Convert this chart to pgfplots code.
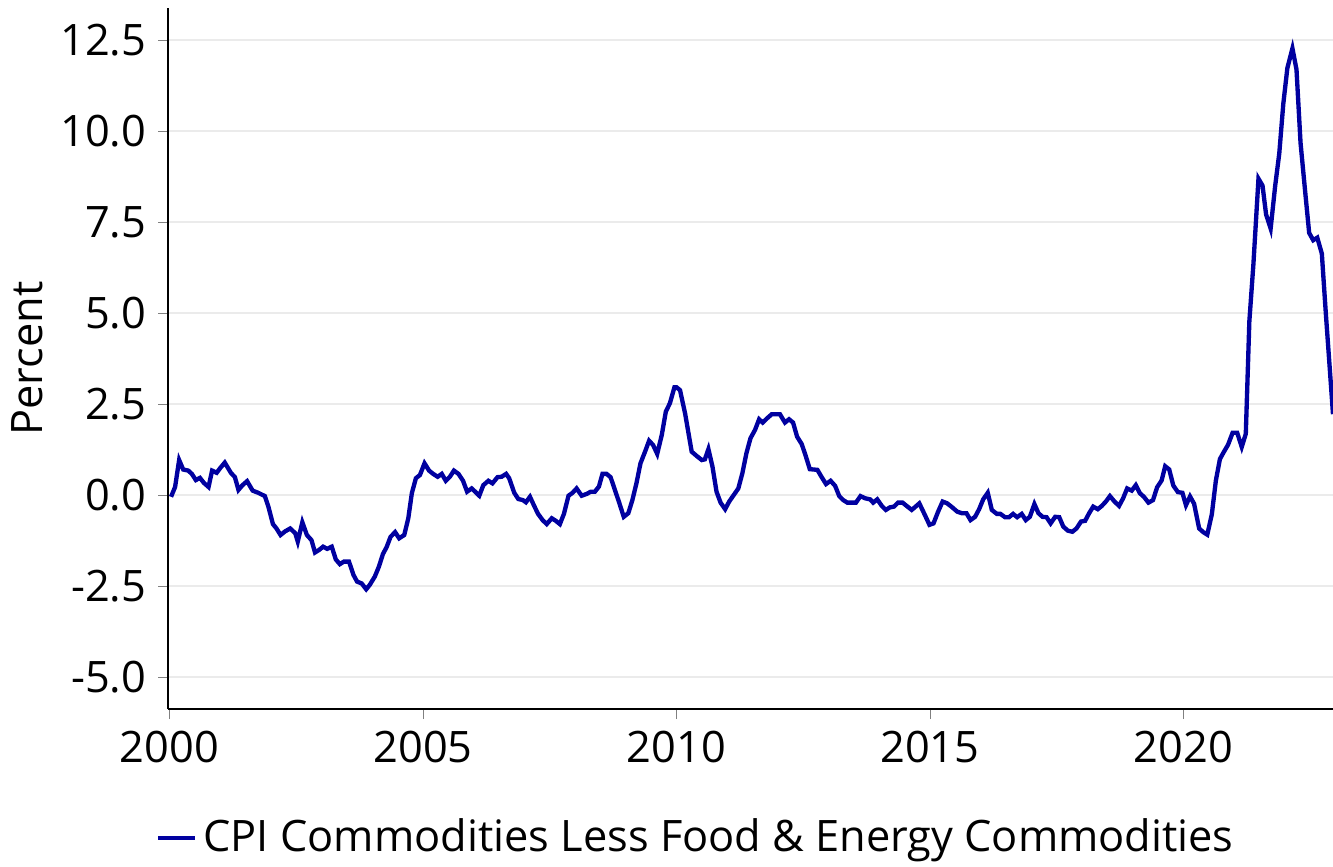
\documentclass[border=0pt]{standalone}
\usepackage{pgfplots}
\pgfplotsset{compat=1.18}
\usepackage{fontspec}
\setmainfont{Open Sans}
\definecolor{lineBlue}{HTML}{0000A0}
\definecolor{gridGray}{HTML}{EBEBEB}

\begin{document}
\begin{tikzpicture}[font=\fontsize{13}{16}\selectfont]
\begin{axis}[
    scale only axis,width=349.5pt,height=210.3pt,
    xmin=1999.97,xmax=2022.95,ymin=-5.88,ymax=13.38,
    axis x line*=bottom,axis y line*=left,
    axis line style={thin,black},
    tick align=outside,major tick length=3pt,
    xtick={2000,2005,2010,2015,2020},
    ytick={-5,-2.5,0,2.5,5,7.5,10,12.5},
    x tick label style={/pgf/number format/1000 sep={}},
    y tick label style={/pgf/number format/.cd,fixed,fixed zerofill,precision=1},
    /pgf/number format/assume math mode=true,
    ymajorgrids,grid style={gridGray,line width=0.8pt},
    ylabel={Percent},ylabel shift=-1.5pt,
    clip=true,
    legend style={draw=none,fill=none,at={(0.455,-0.184)},anchor=center,
        /tikz/every even column/.append style={column sep=0pt}},
    legend image post style={line width=1.3pt},
    legend image code/.code={\draw[#1] (0pt,0pt) -- (11pt,0pt);},
]
\addplot[lineBlue,line width=1.3pt] coordinates {
(2000.03,-0.05)(2000.11,0.22)(2000.19,0.96)(2000.27,0.70)(2000.37,0.67)(2000.44,0.58)
(2000.52,0.41)(2000.60,0.47)(2000.68,0.33)(2000.77,0.22)(2000.84,0.67)(2000.93,0.61)
(2001.00,0.74)(2001.09,0.89)(2001.21,0.61)(2001.29,0.49)(2001.36,0.14)(2001.44,0.27)
(2001.53,0.38)(2001.64,0.12)(2001.75,0.06)(2001.88,-0.03)(2001.95,-0.32)(2002.04,-0.80)
(2002.11,-0.92)(2002.19,-1.10)(2002.28,-1.00)(2002.38,-0.92)(2002.48,-1.05)(2002.53,-1.28)
(2002.62,-0.75)(2002.71,-1.10)(2002.80,-1.24)(2002.87,-1.58)(2002.95,-1.51)(2003.03,-1.42)
(2003.11,-1.48)(2003.20,-1.42)(2003.28,-1.77)(2003.36,-1.90)(2003.44,-1.83)(2003.54,-1.83)
(2003.63,-2.20)(2003.70,-2.38)(2003.79,-2.43)(2003.88,-2.59)(2003.95,-2.47)(2004.05,-2.24)
(2004.13,-1.97)(2004.21,-1.62)(2004.28,-1.44)(2004.36,-1.15)(2004.45,-1.02)(2004.53,-1.19)
(2004.63,-1.10)(2004.71,-0.64)(2004.78,0.05)(2004.86,0.46)(2004.94,0.55)(2005.03,0.87)
(2005.12,0.67)(2005.20,0.58)(2005.29,0.50)(2005.37,0.58)(2005.45,0.39)(2005.53,0.50)
(2005.61,0.67)(2005.70,0.58)(2005.79,0.39)(2005.87,0.09)(2005.96,0.18)(2006.03,0.09)
(2006.11,-0.02)(2006.19,0.27)(2006.29,0.39)(2006.37,0.32)(2006.47,0.49)(2006.55,0.50)
(2006.64,0.58)(2006.70,0.46)(2006.80,0.06)(2006.88,-0.11)(2006.97,-0.14)(2007.03,-0.20)
(2007.11,-0.05)(2007.20,-0.32)(2007.27,-0.52)(2007.36,-0.69)(2007.44,-0.80)(2007.54,-0.64)
(2007.62,-0.71)(2007.70,-0.80)(2007.78,-0.52)(2007.87,-0.02)(2007.95,0.06)(2008.03,0.18)
(2008.13,-0.02)(2008.23,0.03)(2008.31,0.09)(2008.39,0.09)(2008.47,0.23)(2008.54,0.58)
(2008.62,0.58)(2008.70,0.49)(2008.79,0.12)(2008.87,-0.21)(2008.96,-0.60)(2009.05,-0.50)
(2009.13,-0.14)(2009.21,0.32)(2009.29,0.87)(2009.38,1.19)(2009.46,1.49)(2009.54,1.37)
(2009.62,1.13)(2009.71,1.65)(2009.79,2.29)(2009.87,2.52)(2009.96,2.96)(2010.00,2.96)
(2010.07,2.88)(2010.17,2.24)(2010.30,1.19)(2010.40,1.07)(2010.50,0.96)(2010.56,0.98)
(2010.63,1.26)(2010.71,0.78)(2010.79,0.09)(2010.87,-0.21)(2010.96,-0.39)(2011.04,-0.18)
(2011.13,0.00)(2011.22,0.18)(2011.30,0.60)(2011.38,1.15)(2011.46,1.56)(2011.55,1.79)
(2011.63,2.08)(2011.70,1.99)(2011.79,2.11)(2011.88,2.22)(2012.04,2.22)(2012.14,1.99)
(2012.22,2.08)(2012.30,1.99)(2012.38,1.60)(2012.47,1.40)(2012.55,1.07)(2012.63,0.71)
(2012.78,0.69)(2012.86,0.50)(2012.95,0.30)(2013.04,0.39)(2013.13,0.25)(2013.21,-0.03)
(2013.29,-0.14)(2013.37,-0.21)(2013.54,-0.21)(2013.63,-0.03)(2013.72,-0.09)(2013.82,-0.12)
(2013.88,-0.21)(2013.96,-0.12)(2014.05,-0.30)(2014.13,-0.41)(2014.21,-0.34)(2014.29,-0.32)
(2014.37,-0.21)(2014.46,-0.21)(2014.54,-0.30)(2014.64,-0.41)(2014.70,-0.34)(2014.79,-0.23)
(2014.90,-0.55)(2014.99,-0.82)(2015.07,-0.78)(2015.16,-0.46)(2015.25,-0.18)(2015.34,-0.23)
(2015.44,-0.34)(2015.54,-0.46)(2015.63,-0.50)(2015.72,-0.50)(2015.80,-0.69)(2015.89,-0.60)
(2015.97,-0.39)(2016.05,-0.12)(2016.14,0.06)(2016.22,-0.41)(2016.32,-0.52)(2016.39,-0.52)
(2016.48,-0.61)(2016.56,-0.61)(2016.64,-0.52)(2016.72,-0.61)(2016.81,-0.52)(2016.89,-0.69)
(2016.97,-0.60)(2017.06,-0.25)(2017.14,-0.50)(2017.22,-0.60)(2017.30,-0.61)(2017.38,-0.78)
(2017.47,-0.60)(2017.55,-0.61)(2017.63,-0.87)(2017.72,-0.98)(2017.81,-1.01)(2017.89,-0.92)
(2017.98,-0.73)(2018.06,-0.71)(2018.14,-0.50)(2018.22,-0.32)(2018.31,-0.39)(2018.39,-0.30)
(2018.47,-0.18)(2018.55,-0.03)(2018.64,-0.18)(2018.73,-0.30)(2018.81,-0.09)(2018.89,0.18)
(2018.98,0.12)(2019.06,0.27)(2019.14,0.05)(2019.22,-0.05)(2019.31,-0.21)(2019.40,-0.14)
(2019.48,0.21)(2019.57,0.40)(2019.64,0.79)(2019.72,0.70)(2019.80,0.26)(2019.89,0.08)
(2019.98,0.06)(2020.05,-0.28)(2020.13,-0.04)(2020.21,-0.24)(2020.31,-0.92)(2020.39,-1.02)
(2020.47,-1.09)(2020.56,-0.53)(2020.64,0.40)(2020.72,0.99)(2020.80,1.19)(2020.88,1.38)
(2020.97,1.71)(2021.06,1.71)(2021.15,1.32)(2021.23,1.68)(2021.30,4.77)(2021.38,6.34)
(2021.48,8.69)(2021.56,8.50)(2021.63,7.71)(2021.72,7.32)(2021.81,8.50)(2021.89,9.38)
(2021.97,10.75)(2022.05,11.73)(2022.15,12.27)(2022.23,11.69)(2022.31,9.67)(2022.40,8.35)
(2022.48,7.20)(2022.56,7.00)(2022.64,7.07)(2022.73,6.63)(2022.81,4.96)(2022.89,3.40)
(2022.95,2.22)
};
\addlegendentry{CPI Commodities Less Food \& Energy Commodities}
\end{axis}
\pgfresetboundingbox
\path[use as bounding box] (-50.4pt,-47.4pt) rectangle (349.5pt,212.7pt);
\end{tikzpicture}
\end{document}
